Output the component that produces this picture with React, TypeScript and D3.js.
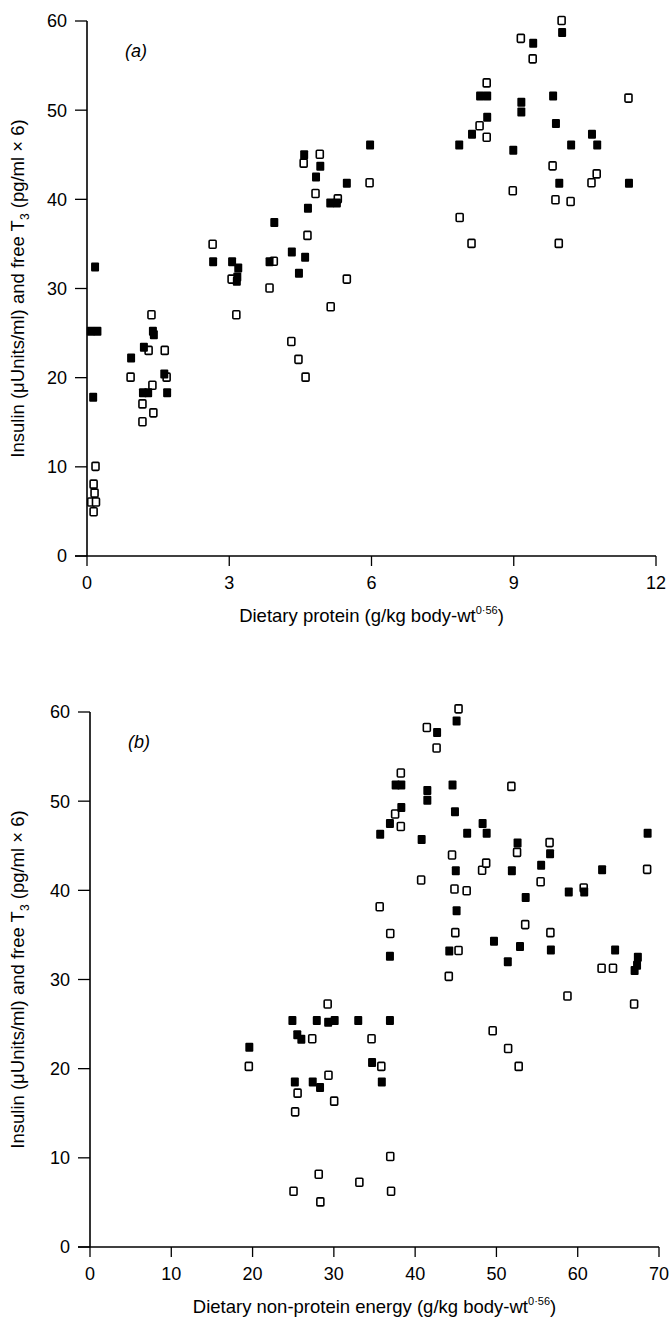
import React from "react";
import * as d3 from "d3";

// Panel (a): dietary protein vs insulin / free T3
const proteinFilled: [number, number][] = [
  [0.17, 32.4], [0.08, 25.2], [0.22, 25.2], [0.13, 17.8],
  [0.93, 22.2], [1.2, 23.4], [1.39, 25.2], [1.41, 24.8], [1.63, 20.4], [1.18, 18.3], [1.29, 18.3], [1.69, 18.3],
  [2.66, 33.0], [3.06, 33.0], [3.19, 32.3], [3.17, 31.3], [3.16, 30.8], [3.85, 33.0], [3.95, 37.4],
  [4.32, 34.1], [4.6, 33.5], [4.47, 31.7], [4.58, 45.0], [4.92, 43.7], [4.83, 42.5], [4.66, 39.0], [5.13, 39.6], [5.27, 39.6], [5.48, 41.8], [5.97, 46.1],
  [7.85, 46.1], [8.12, 47.3], [8.29, 51.6], [8.44, 51.6], [8.44, 49.2], [8.99, 45.5], [9.16, 50.9], [9.16, 49.8], [9.41, 57.5], [9.83, 51.6], [9.89, 48.5], [9.96, 41.8], [10.02, 58.7], [10.21, 46.1], [10.65, 47.3], [10.76, 46.1], [11.43, 41.8],
];
const proteinOpen: [number, number][] = [
  [0.19, 10.0], [0.15, 8.0], [0.17, 7.0], [0.1, 6.0], [0.2, 6.0], [0.15, 4.9],
  [0.93, 20.0], [1.31, 23.0], [1.65, 23.0], [1.37, 27.0], [1.69, 20.0], [1.39, 19.1], [1.18, 17.0], [1.41, 16.0], [1.18, 15.0],
  [2.66, 34.9], [3.06, 31.0], [3.16, 27.0], [3.95, 33.0], [3.86, 30.0],
  [4.58, 44.0], [4.92, 45.0], [4.83, 40.6], [5.3, 40.0], [5.97, 41.8], [4.66, 35.9], [5.49, 31.0], [5.15, 27.9], [4.32, 24.0], [4.47, 22.0], [4.62, 20.0],
  [7.87, 37.9], [8.12, 35.0], [8.29, 48.2], [8.44, 46.9], [8.44, 53.0], [8.99, 40.9], [9.16, 58.0], [9.41, 55.7], [9.83, 43.7], [9.89, 39.9], [9.96, 35.0], [10.02, 60.0], [10.21, 39.7], [10.65, 41.8], [10.76, 42.8], [11.43, 51.3],
];

// Panel (b): dietary non-protein energy vs insulin / free T3
const energyFilled: [number, number][] = [
  [19.6, 22.4], [24.9, 25.4], [25.5, 23.8], [26.0, 23.3], [25.2, 18.5], [27.9, 25.4], [27.4, 18.5], [28.3, 17.9], [29.3, 25.2], [30.1, 25.4], [33.0, 25.4], [34.7, 20.7], [35.9, 18.5], [36.9, 25.4], [36.9, 32.6],
  [35.7, 46.3], [36.9, 47.5], [37.6, 51.8], [38.3, 51.8], [38.3, 49.3], [40.8, 45.7], [41.5, 51.2], [41.5, 50.1], [42.7, 57.7], [44.2, 33.2], [44.6, 51.8], [44.9, 48.8], [45.0, 42.2], [45.1, 37.7], [45.1, 59.0],
  [46.4, 46.4], [48.3, 47.5], [48.8, 46.4], [49.7, 34.3], [51.4, 32.0], [51.9, 42.2], [52.6, 45.3], [52.9, 33.7], [53.6, 39.2], [55.5, 42.8], [56.6, 44.1], [56.7, 33.3], [58.9, 39.8], [60.8, 39.8], [63.0, 42.3], [64.6, 33.3], [67.0, 31.0], [67.3, 31.6], [67.4, 32.5], [68.6, 46.4],
];
const energyOpen: [number, number][] = [
  [19.6, 20.2], [25.6, 17.2], [25.3, 15.1], [27.4, 23.3], [29.4, 19.2], [29.3, 27.2], [30.1, 16.3], [34.7, 23.3], [35.9, 20.2],
  [25.1, 6.2], [28.2, 8.1], [28.4, 5.0], [33.2, 7.2], [37.0, 10.1], [37.1, 6.2],
  [35.7, 38.1], [37.0, 35.1], [37.6, 48.5], [38.3, 47.1], [38.3, 53.1], [40.8, 41.1], [41.5, 58.2], [42.7, 55.9], [44.2, 30.3], [44.6, 43.9], [45.0, 35.2], [45.4, 33.2], [44.9, 40.1], [45.4, 60.3],
  [46.4, 39.9], [48.3, 42.2], [48.8, 43.0], [49.6, 24.2], [51.5, 22.2], [51.9, 51.6], [52.6, 44.2], [52.8, 20.2], [53.6, 36.1], [55.5, 40.9], [56.6, 45.3], [56.7, 35.2], [58.8, 28.1], [60.8, 40.2], [63.0, 31.2], [64.4, 31.2], [67.0, 27.2], [68.6, 42.3],
];

const yTicks = [0, 10, 20, 30, 40, 50, 60];
const xTicksA = [0, 3, 6, 9, 12];
const xTicksB = [0, 10, 20, 30, 40, 50, 60, 70];

const FONT = "'Liberation Sans', Arial, sans-serif";

interface PanelProps {
  x0: number; x1: number; y0: number; y1: number;
  xMax: number; xTicks: number[];
  filled: [number, number][]; open: [number, number][];
  label: string; xTitle: string;
}

function Panel({ x0, x1, y0, y1, xMax, xTicks, filled, open, label, xTitle }: PanelProps) {
  const x = d3.scaleLinear().domain([0, xMax]).range([x0, x1]);
  const y = d3.scaleLinear().domain([0, 60]).range([y0, y1]);
  const w = 8, h = 9;
  return (
    <g fontFamily={FONT} fill="#000">
      {/* axes */}
      <line x1={x(0)} x2={x(0)} y1={y(0)} y2={y(60)} stroke="#000" strokeWidth={1.6} />
      <line x1={x(0) - 12} x2={x(xMax)} y1={y(0)} y2={y(0)} stroke="#000" strokeWidth={1.6} />
      {yTicks.map((t) => (
        <g key={"y" + t}>
          <line x1={x(0) - 12} x2={x(0)} y1={y(t)} y2={y(t)} stroke="#000" strokeWidth={1.3} />
          <text x={x(0) - 20} y={y(t)} dy="0.36em" textAnchor="end" fontSize={18}>{t}</text>
        </g>
      ))}
      {xTicks.map((t) => (
        <g key={"x" + t}>
          <line x1={x(t)} x2={x(t)} y1={y(0)} y2={y(0) + 10} stroke="#000" strokeWidth={1.3} />
          <text x={x(t)} y={y(0) + 33} textAnchor="middle" fontSize={18}>{t}</text>
        </g>
      ))}
      <text x={(x0 + x1) / 2} y={y(0) + 66} textAnchor="middle" fontSize={18.5}>
        {xTitle}
        <tspan fontSize={11} dy={-8}>0·56</tspan>
        <tspan dy={8}>)</tspan>
      </text>
      <text transform={`translate(24,${(y(0) + y(60)) / 2}) rotate(-90)`} textAnchor="middle" fontSize={18.5}>
        Insulin (μUnits/ml) and free T<tspan fontSize={12} dy={5}>3</tspan>
        <tspan dy={-5}> (pg/ml × 6)</tspan>
      </text>
      <text x={x0 + 38} y={y(60) + 36} fontSize={18} fontStyle="italic">{label}</text>
      {/* markers */}
      {open.map((d, i) => (
        <rect key={"o" + i} x={x(d[0]) - w / 2} y={y(d[1]) - h / 2} width={w - 1} height={h - 1}
          fill="#fff" stroke="#000" strokeWidth={1.6} rx={1} />
      ))}
      {filled.map((d, i) => (
        <rect key={"f" + i} x={x(d[0]) - w / 2} y={y(d[1]) - h / 2} width={w} height={h}
          fill="#000" rx={1} />
      ))}
    </g>
  );
}

export default function App() {
  return (
    <svg width={672} height={1317} style={{ position: "absolute", left: 0, top: 0, background: "#fff" }}>
      <rect width={672} height={1317} fill="#fff" />
      <Panel x0={87} x1={656} y0={556} y1={21} xMax={12} xTicks={xTicksA}
        filled={proteinFilled} open={proteinOpen} label="(a)" xTitle="Dietary protein (g/kg body-wt" />
      <Panel x0={90} x1={659} y0={1247} y1={712} xMax={70} xTicks={xTicksB}
        filled={energyFilled} open={energyOpen} label="(b)" xTitle="Dietary non-protein energy (g/kg body-wt" />
    </svg>
  );
}
